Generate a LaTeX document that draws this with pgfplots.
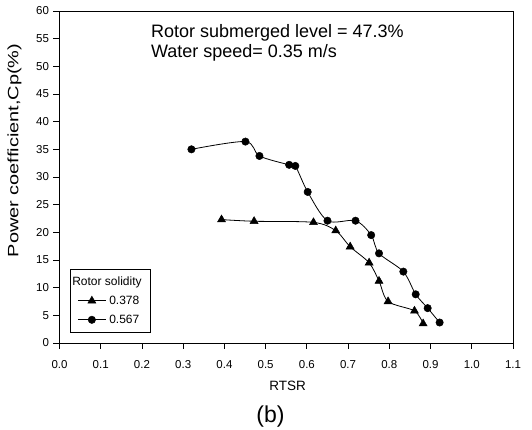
\documentclass[border=0pt]{standalone}
\usepackage{fontspec}
\setmainfont{Liberation Sans}
\usepackage{graphicx}
\usepackage{pgfplots}
\pgfplotsset{compat=1.18}

\pgfplotstableread{
x y
0.393 22.3
0.472 22.0
0.616 21.8
0.670 20.3
0.705 17.4
0.751 14.5
0.775 11.2
0.797 7.5
0.861 5.8
0.882 3.5
}\solidA

\pgfplotstableread{
x y
0.320 35.0
0.451 36.4
0.485 33.8
0.557 32.2
0.572 32.0
0.602 27.3
0.650 22.1
0.718 22.1
0.756 19.5
0.775 16.2
0.834 12.9
0.864 8.8
0.893 6.3
0.922 3.7
}\solidB

\begin{document}
\begin{tikzpicture}[x=1pt,y=1pt]
\useasboundingbox (-59.5,-87) rectangle (472.5,343);
\begin{axis}[
  at={(0,0)}, anchor=south west,
  scale only axis, width=453.5pt, height=332pt,
  xmin=0, xmax=1.1, ymin=0, ymax=60,
  xtick={0,0.1,0.2,0.3,0.4,0.5,0.6,0.7,0.8,0.9,1.0,1.1},
  ytick={0,5,10,15,20,25,30,35,40,45,50,55,60},
  xtick pos=left, ytick pos=left,
  tick align=outside, major tick length=6pt,
  axis line style={line width=0.9pt},
  every tick/.style={line width=0.9pt, black},
  /pgf/number format/assume math mode=true,
  xticklabel style={yshift=-8pt, /pgf/number format/.cd, fixed, fixed zerofill, precision=1},
  yticklabel style={xshift=-1pt},
  tick label style={font=\fontsize{11.5}{13}\selectfont},
  xlabel={RTSR},
  ylabel={\scalebox{1.33}[1]{Power coefficient,Cp(\%)}},
  xlabel style={at={(axis description cs:0.503,-0.1295)}, anchor=center, font=\fontsize{13.5}{15}\selectfont},
  ylabel style={at={(axis description cs:-0.0995,0.58)}, anchor=center, font=\fontsize{15}{17}\selectfont},
  legend style={at={(axis description cs:0.0232,0.0301)}, anchor=south west,
    draw=black, line width=0.9pt, font=\fontsize{12}{14}\selectfont,
    inner xsep=7pt, inner ysep=5pt, row sep=3.5pt, column sep=1pt,
    nodes={text height=9pt, text depth=2.5pt}},
  legend cell align=left,
  legend image code/.code={\draw[mark repeat=2,mark phase=2] plot coordinates {(0pt,0pt)(14pt,0pt)(28pt,0pt)};},
]
\addlegendimage{empty legend}
\addlegendentry{\hspace*{-37pt}Rotor solidity}
\addplot[black, line width=0.8pt, smooth, tension=0.5, mark=triangle*, mark size=4.6pt, mark options={solid, line width=0.5pt}] table {\solidA};
\addlegendentry{0.378}
\addplot[black, line width=0.8pt, smooth, tension=0.5, mark=*, mark size=3.7pt, mark options={solid, line width=0.5pt}] table {\solidB};
\addlegendentry{0.567}
\end{axis}
\node[anchor=base west, font=\fontsize{18}{22}\selectfont] at (88,305) {Rotor submerged level = 47.3\%};
\node[anchor=base west, font=\fontsize{18}{22}\selectfont] at (88,285) {Water speed= 0.35 m/s};
\node[font=\fontsize{23}{26}\selectfont] at (211,-73.7) {(b)};
\end{tikzpicture}
\end{document}
